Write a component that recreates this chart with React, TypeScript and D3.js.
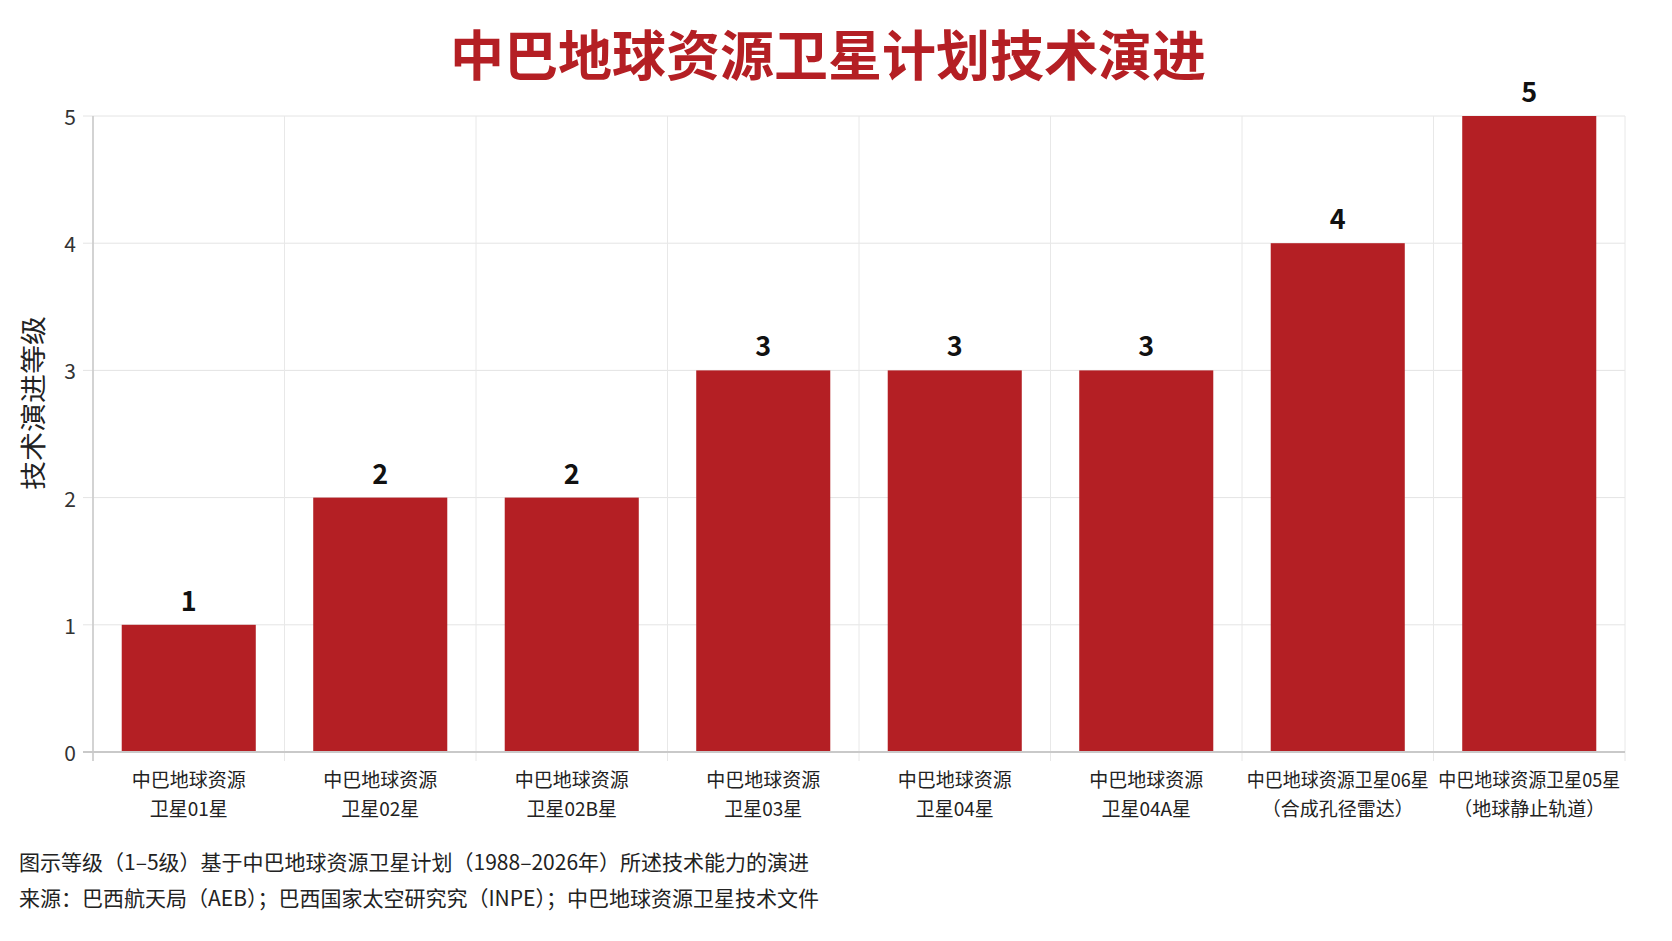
import * as d3 from "d3";
import { useMemo } from "react";

const WIDTH = 1672;
const HEIGHT = 941;
const MARGIN = { top: 116, right: 47, bottom: 189, left: 93 };

const TITLE = "中巴地球资源卫星计划技术演进";
const Y_TITLE = "技术演进等级";

// categories (two label lines each) and their levels
const satelliteIds = ["01", "02", "02B", "03", "04", "04A", "06", "05"];
const labelLine1 = [
  "中巴地球资源",
  "中巴地球资源",
  "中巴地球资源",
  "中巴地球资源",
  "中巴地球资源",
  "中巴地球资源",
  "中巴地球资源卫星06星",
  "中巴地球资源卫星05星",
];
const labelLine2 = [
  "卫星01星",
  "卫星02星",
  "卫星02B星",
  "卫星03星",
  "卫星04星",
  "卫星04A星",
  "（合成孔径雷达）",
  "（地球静止轨道）",
];
const levels = [1, 2, 2, 3, 3, 3, 4, 5];
const yTicks = [0, 1, 2, 3, 4, 5];

const NOTES = [
  "图示等级（1–5级）基于中巴地球资源卫星计划（1988–2026年）所述技术能力的演进",
  "来源：巴西航天局（AEB）；巴西国家太空研究究（INPE）；中巴地球资源卫星技术文件",
];

const FONT = "'Noto Sans CJK SC', 'Noto Sans', sans-serif";
const RED = "#b41f24";

// rough width of a label: CJK glyphs are 1em, latin ~0.56em
function estWidth(s: string, size: number) {
  let w = 0;
  for (const ch of s) w += /[\x00-\x7f]/.test(ch) ? 0.56 : 1;
  return w * size;
}

function BarChart() {
  const boundsLeft = MARGIN.left;
  const boundsRight = WIDTH - MARGIN.right;
  const boundsTop = MARGIN.top;
  const boundsBottom = HEIGHT - MARGIN.bottom;

  const xScale = useMemo(
    () =>
      d3
        .scaleBand()
        .domain(satelliteIds)
        .range([boundsLeft, boundsRight])
        .paddingInner(0.3)
        .paddingOuter(0.15),
    []
  );

  const yScale = useMemo(
    () => d3.scaleLinear().domain([0, 5]).range([boundsBottom, boundsTop]),
    []
  );

  const step = xScale.step();
  const bw = xScale.bandwidth();
  const outer = step * 0.15;

  // category boundaries for vertical grid lines
  const boundaries = satelliteIds.map((id) => (xScale(id) ?? 0) - outer);
  boundaries.push(boundsRight);

  const labelSize = 19;

  return (
    <svg
      width={WIDTH}
      height={HEIGHT}
      style={{ position: "absolute", left: 0, top: 0, background: "#fff" }}
      fontFamily={FONT}
    >
      <text
        x={828}
        y={76}
        textAnchor="middle"
        fontSize={54}
        fontWeight={700}
        fill={RED}
      >
        {TITLE}
      </text>

      {/* horizontal grid */}
      {yTicks.map((t) => (
        <line
          key={"h" + t}
          x1={boundsLeft - 10}
          x2={boundsRight}
          y1={yScale(t)}
          y2={yScale(t)}
          stroke="#e4e4e4"
          strokeWidth={1}
        />
      ))}
      {/* vertical grid */}
      {boundaries.map((x, i) => (
        <line
          key={"v" + i}
          x1={x}
          x2={x}
          y1={boundsTop}
          y2={boundsBottom + 9}
          stroke="#e8e8e8"
          strokeWidth={1}
        />
      ))}

      {/* bars */}
      {satelliteIds.map((id, i) => (
        <rect
          key={id}
          x={xScale(id)}
          y={yScale(levels[i])}
          width={bw}
          height={yScale(0) - yScale(levels[i])}
          fill={RED}
        />
      ))}

      {/* axes */}
      <line
        x1={boundsLeft}
        x2={boundsLeft}
        y1={boundsTop}
        y2={boundsBottom + 9}
        stroke="#c9c9c9"
        strokeWidth={1.5}
      />
      <line
        x1={boundsLeft - 10}
        x2={boundsRight}
        y1={boundsBottom}
        y2={boundsBottom}
        stroke="#c9c9c9"
        strokeWidth={2}
      />

      {/* y tick labels */}
      {yTicks.map((t) => (
        <text
          key={"yt" + t}
          x={boundsLeft - 17}
          y={yScale(t)}
          textAnchor="end"
          dominantBaseline="central"
          fontSize={21}
          fill="#333"
        >
          {t}
        </text>
      ))}

      {/* y title */}
      <text
        transform={`translate(31,${(boundsTop + boundsBottom) / 2 - 31}) rotate(-90)`}
        textAnchor="middle"
        dominantBaseline="central"
        fontSize={26}
        textLength={174}
        lengthAdjust="spacingAndGlyphs"
        fill="#222"
      >
        {Y_TITLE}
      </text>

      {/* value labels */}
      {satelliteIds.map((id, i) => (
        <text
          key={"v" + id}
          x={(xScale(id) ?? 0) + bw / 2}
          y={yScale(levels[i]) - 14}
          textAnchor="middle"
          fontSize={27}
          fontWeight={700}
          fill="#111"
        >
          {levels[i]}
        </text>
      ))}

      {/* x labels */}
      {satelliteIds.map((id, i) => {
        const cx = (xScale(id) ?? 0) + bw / 2;
        const maxW = step * 0.95;
        return (
          <g key={"xl" + id} fontSize={labelSize} fill="#222" textAnchor="middle">
            {[labelLine1[i], labelLine2[i]].map((s, j) => {
              const w = estWidth(s, labelSize);
              const fit = w > maxW ? { textLength: maxW, lengthAdjust: "spacingAndGlyphs" } : {};
              return (
                <text key={j} x={cx} y={boundsBottom + 35 + j * 29} {...fit}>
                  {s}
                </text>
              );
            })}
          </g>
        );
      })}

      {/* notes */}
      {NOTES.map((n, i) => (
        <text key={"n" + i} x={19} y={870 + i * 36} fontSize={21} fill="#222">
          {n}
        </text>
      ))}
    </svg>
  );
}

export default function App() {
  return <BarChart />;
}
